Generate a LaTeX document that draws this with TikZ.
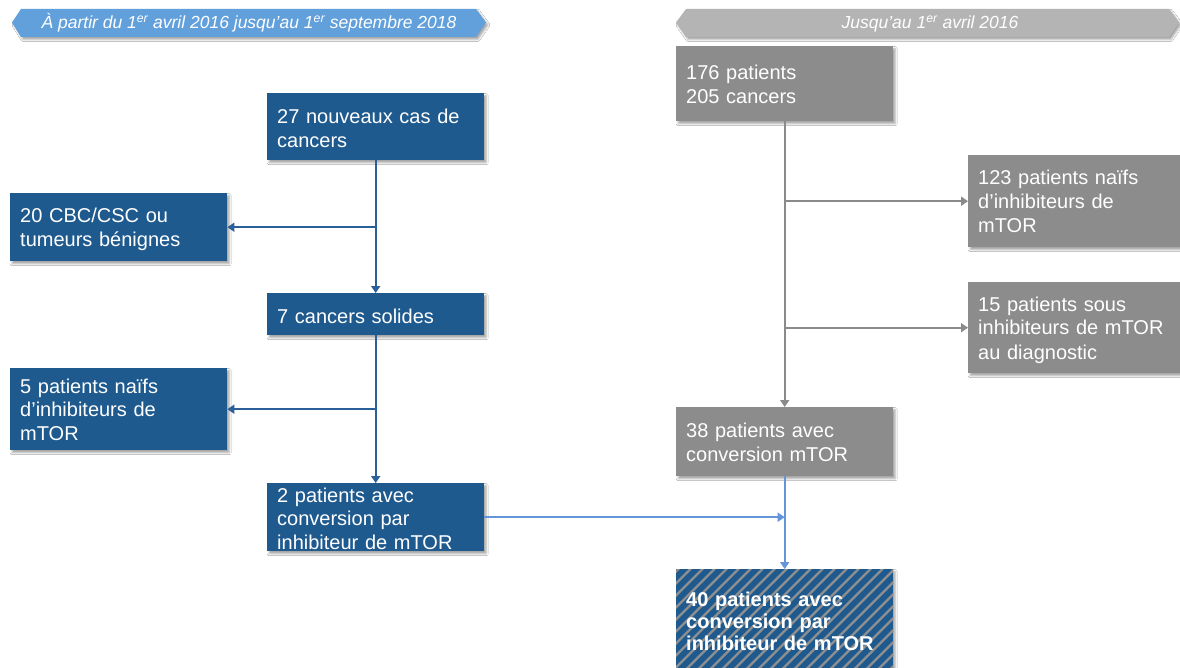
\documentclass[tikz,border=0pt]{standalone}
\usepackage{fontspec}
\setmainfont{Liberation Sans}
\usetikzlibrary{arrows.meta,shadows.blur,calc}
\definecolor{dblue}{HTML}{1F5A8F}
\definecolor{boxgray}{HTML}{8C8C8C}
\definecolor{banblue}{HTML}{62A0DC}
\definecolor{bangray}{HTML}{B4B4B4}
\definecolor{linegray}{HTML}{8A8A8A}
\definecolor{lineblue}{HTML}{2B5F98}
\definecolor{lightline}{HTML}{6495D8}
\definecolor{stripegray}{HTML}{8F8F8F}
\begin{document}
\begin{tikzpicture}[x=1pt,y=-1pt,
  shadowed/.style={blur shadow={shadow xshift=2pt,shadow yshift=-2.5pt,shadow blur radius=2pt,shadow opacity=35}},
  bbox/.style={rectangle,fill=dblue,draw=none,inner sep=0pt,anchor=north west,shadowed},
  gbox/.style={rectangle,fill=boxgray,draw=none,inner sep=0pt,anchor=north west,shadowed},
  btext/.style={text=white,align=left,inner sep=0pt,anchor=base west,text width=205pt,font=\fontsize{20}{24}\selectfont},
  bantext/.style={text=white,anchor=base,inner sep=0pt,font=\fontsize{17.5}{20}\selectfont\itshape},
  tip/.style={-{Triangle[width=9pt,length=7pt]}},
  bline/.style={tip,draw=lineblue,line width=2.2pt},
  gline/.style={tip,draw=linegray,line width=2.2pt},
  lline/.style={tip,draw=lightline,line width=2.2pt},
  stripe/.style={draw=stripegray,line width=2.3pt}
]
\useasboundingbox[fill=white] (0,0) rectangle (1180,668);

% banners
\path[fill=banblue,shadowed] (12,22.5) -- (21,9) -- (476,9) -- (486,22.5) -- (476,37) -- (21,37) -- cycle;
\node[bantext] (ban1) at (249,29) {À partir du 1\textsuperscript{er} avril 2016 jusqu'au 1\textsuperscript{er} septembre 2018};
\path[fill=bangray,shadowed] (676,22.5) -- (686,9) -- (1169,9) -- (1179,22.5) -- (1169,37) -- (686,37) -- cycle;
\node[bantext] (ban2) at (930,29) {Jusqu'au 1\textsuperscript{er} avril 2016};

% left column boxes
\node[bbox,minimum width=217pt,minimum height=67pt] (n27) at (267,93) {};
\node[btext] (t27) at ($(n27.north west)+(10,31)$) {27 nouveaux cas de\\cancers};
\node[bbox,minimum width=217pt,minimum height=68pt] (ncbc) at (10,193) {};
\node[btext] (tcbc) at ($(ncbc.north west)+(10,30)$) {20 CBC/CSC ou\\tumeurs bénignes};
\node[bbox,minimum width=217pt,minimum height=42pt] (n7) at (267,293) {};
\node[btext] (t7) at ($(n7.north west)+(10,30)$) {7 cancers solides};
\node[bbox,minimum width=217pt,minimum height=82pt] (n5) at (10,368) {};
\node[btext,font=\fontsize{20}{23.5}\selectfont] (t5) at ($(n5.north west)+(10,25)$) {5 patients naïfs\\d'inhibiteurs de\\mTOR};
\node[bbox,minimum width=217pt,minimum height=68pt] (n2) at (267,483) {};
\node[btext,font=\fontsize{20}{23.5}\selectfont] (t2) at ($(n2.north west)+(10,19)$) {2 patients avec\\conversion par\\inhibiteur de mTOR};

% right column boxes
\node[gbox,minimum width=217pt,minimum height=75pt] (n176) at (676,46) {};
\node[btext] (t176) at ($(n176.north west)+(10,34)$) {176 patients\\205 cancers};
\node[gbox,minimum width=215pt,minimum height=92pt] (n123) at (968,155) {};
\node[btext,font=\fontsize{20}{24}\selectfont] (t123) at ($(n123.north west)+(10,30)$) {123 patients naïfs\\d'inhibiteurs de\\mTOR};
\node[gbox,minimum width=215pt,minimum height=91pt] (n15) at (968,282) {};
\node[btext] (t15) at ($(n15.north west)+(10,29)$) {15 patients sous\\inhibiteurs de mTOR\\au diagnostic};
\node[gbox,minimum width=217pt,minimum height=69pt] (n38) at (676,407) {};
\node[btext] (t38) at ($(n38.north west)+(10,30)$) {38 patients avec\\conversion mTOR};
\node[bbox,minimum width=217pt,minimum height=110pt] (n40) at (676,569) {};
\begin{scope}
  \clip (n40.north west) rectangle (n40.south east);
  \foreach \i in {0,12,...,360} \draw[stripe] ($(n40.south west)+(\i-120,0)$) -- ++(120,-120);
\end{scope}
\node[btext,font=\fontsize{20}{22}\selectfont\bfseries] (t40) at ($(n40.north west)+(10,37)$) {40 patients avec\\conversion par\\inhibiteur de mTOR};

% connectors
\draw[bline] (n27) -- (n7);
\draw[bline] (n27.south |- ncbc.east) -- (ncbc.east);
\draw[bline] (n7) -- (n2);
\draw[bline] (n7.south |- n5.east) -- (n5.east);
\draw[gline] (n176) -- (n38);
\draw[gline] (n176.south |- n123.west) -- (n123.west);
\draw[gline] (n176.south |- n15.west) -- (n15.west);
\draw[lline] (n38) -- (n40);
\draw[lline] (n2.east) -- (n2.east -| n38.south);
\end{tikzpicture}
\end{document}
